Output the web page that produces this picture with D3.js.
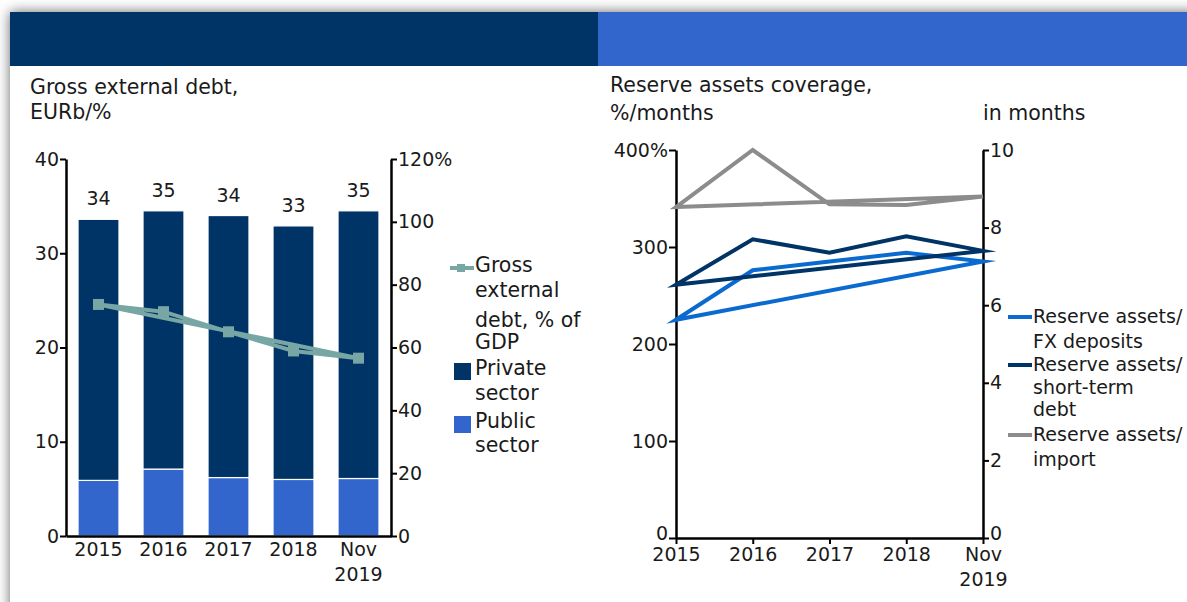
<!DOCTYPE html>
<html>
<head>
<meta charset="utf-8">
<script src="https://cdn.jsdelivr.net/npm/d3@7"></script>
<style>
body{margin:0;background:#fff;overflow:hidden;}
#panel{position:absolute;left:10px;top:12px;width:1200px;height:620px;background:#fff;box-shadow:0 0 12px rgba(0,0,0,.6);}
#chart{position:absolute;left:0;top:0;}
text{font-family:"DejaVu Sans",Verdana,sans-serif;fill:#1a1a1a;}
</style>
</head>
<body>
<div id="panel"></div>
<svg id="chart" width="1187" height="602"></svg>
<script>
// left chart data
const years=["2015","2016","2017","2018","Nov 2019"];
const publicSector=[5.9,7.1,6.2,6.0,6.1];
const privateSector=[27.7,27.4,27.8,26.9,28.4];
const debtPctGdp=[73.7,71.4,65.0,58.9,56.6];
const leftTicks=[0,10,20,30,40];
const leftRightTicks=[0,20,40,60,80,100,120];

// right chart data
const fxDeposits=[225,276,285,294,285];
const shortTermDebt=[261,308,294,311,296];
const importMonths=[8.53,10,8.6,8.58,8.8];
const rightTicks=[0,100,200,300,400];
const monthTicks=[0,2,4,6,8,10];

const navy="#003366",blue="#3366CC",teal="#77A6A4";
const fxBlue="#0A6AD0",grey="#8C8C8C";
const FS=19,FT=20.5;

const svg=d3.select("#chart");

// header bands
svg.append("rect").attr("x",10).attr("y",12).attr("width",588).attr("height",54).attr("fill",navy);
svg.append("rect").attr("x",598).attr("y",12).attr("width",600).attr("height",54).attr("fill",blue);

function multiText(g,x,y,lines,lh,fs){
  const t=g.append("text").attr("x",x).attr("y",y).attr("font-size",fs||FS);
  lines.forEach((l,i)=>t.append("tspan").attr("x",x).attr("dy",i?lh:0).text(l));
  return t;
}

function styleAxis(a){
  a.select(".domain").attr("stroke","#000").attr("stroke-width",2.5);
  a.selectAll(".tick line").attr("stroke","#000").attr("stroke-width",2);
  a.selectAll(".tick text").attr("font-size",FS).attr("fill","#1a1a1a").attr("font-family","DejaVu Sans");
}

// ---------- left chart ----------
const gl=svg.append("g");
multiText(gl,30,94,["Gross external debt,","EURb/%"],25,FT);

const xL=d3.scaleBand().domain(years).range([66,391]).paddingInner(0.37).paddingOuter(0.185);
const yL=d3.scaleLinear().domain([0,40]).range([536,159]);
const yL2=d3.scaleLinear().domain([0,120]).range([536,159]);

const stacked=years.map((y,i)=>({year:y,pub:publicSector[i],priv:privateSector[i],tot:publicSector[i]+privateSector[i]}));

gl.selectAll(".pub").data(stacked).enter().append("rect")
  .attr("x",d=>xL(d.year)).attr("width",xL.bandwidth())
  .attr("y",d=>yL(d.pub)).attr("height",d=>yL(0)-yL(d.pub))
  .attr("fill",blue).attr("stroke","#fff").attr("stroke-width",1.2);
gl.selectAll(".priv").data(stacked).enter().append("rect")
  .attr("x",d=>xL(d.year)).attr("width",xL.bandwidth())
  .attr("y",d=>yL(d.tot)).attr("height",d=>yL(d.pub)-yL(d.tot))
  .attr("fill",navy).attr("stroke","#fff").attr("stroke-width",1.2);
gl.selectAll(".lbl").data(stacked).enter().append("text")
  .attr("x",d=>xL(d.year)+xL.bandwidth()/2).attr("y",d=>yL(d.tot)-14)
  .attr("text-anchor","middle").attr("font-size",FS)
  .text(d=>Math.round(d.tot));

const axL=gl.append("g").attr("transform","translate(66,0)")
  .call(d3.axisLeft(yL).tickValues(leftTicks).tickSize(6).tickPadding(1).tickSizeOuter(0));
styleAxis(axL);
const axL2=gl.append("g").attr("transform","translate(391,0)")
  .call(d3.axisRight(yL2).tickValues(leftRightTicks).tickSize(6).tickPadding(1).tickSizeOuter(0)
  .tickFormat(d=>d===120?"120%":d));
styleAxis(axL2);
const axLB=gl.append("g").attr("transform","translate(0,536)")
  .call(d3.axisBottom(xL).tickSize(0).tickSizeOuter(0).tickPadding(7));
styleAxis(axLB);
axLB.selectAll(".tick text").each(function(d){
  const t=d3.select(this);t.text(null);
  d.split(" ").forEach((w,i)=>t.append("tspan").attr("x",0).attr("dy",i?"1.3em":"0.71em").text(w));
});

const lineL=d3.line().x((d,i)=>xL(years[i])+xL.bandwidth()/2).y(d=>yL2(d)).curve(d3.curveLinearClosed);
gl.append("path").attr("d",lineL(debtPctGdp)).attr("fill","none")
  .attr("stroke",teal).attr("stroke-width",4).attr("stroke-linejoin","miter").attr("stroke-miterlimit",20);
gl.selectAll(".mk").data(debtPctGdp).enter().append("rect")
  .attr("x",(d,i)=>xL(years[i])+xL.bandwidth()/2-5.5).attr("y",d=>yL2(d)-5.5)
  .attr("width",11).attr("height",11).attr("fill",teal);

// left legend
gl.append("line").attr("x1",450).attr("x2",474).attr("y1",268).attr("y2",268).attr("stroke",teal).attr("stroke-width",4);
gl.append("rect").attr("x",457).attr("y",264).attr("width",8).attr("height",8).attr("fill",teal);
multiText(gl,475,272,["Gross","external"],25,FT);
multiText(gl,475,327,["debt, % of","GDP"],22,FT);
gl.append("rect").attr("x",454).attr("y",363).attr("width",17).attr("height",17).attr("fill",navy);
multiText(gl,475,375,["Private","sector"],25,FT);
gl.append("rect").attr("x",454).attr("y",416).attr("width",17).attr("height",17).attr("fill",blue);
multiText(gl,475,428,["Public","sector"],24,FT);

// ---------- right chart ----------
const gr=svg.append("g");
multiText(gr,610,92,["Reserve assets coverage,","%/months"],28,FT);
gr.append("text").attr("x",983).attr("y",120).attr("font-size",FT).text("in months");

const xR=d3.scalePoint().domain(years).range([676,983]);
const yR=d3.scaleLinear().domain([0,400]).range([538,150]);
const yR2=d3.scaleLinear().domain([0,10]).range([538,150]);

const axR=gr.append("g").attr("transform","translate(676,0)")
  .call(d3.axisLeft(yR).tickValues(rightTicks).tickSize(7).tickPadding(1).tickSizeOuter(0)
  .tickFormat(d=>d===400?"400%":d));
styleAxis(axR);
axR.selectAll(".tick text").filter(d=>d===0).attr("dy","0.1em");
const axR2=gr.append("g").attr("transform","translate(983,0)")
  .call(d3.axisRight(yR2).tickValues(monthTicks).tickSize(6).tickPadding(1).tickSizeOuter(0));
styleAxis(axR2);
axR2.selectAll(".tick text").filter(d=>d===0).attr("dy","0.1em");
const axRB=gr.append("g").attr("transform","translate(0,538)")
  .call(d3.axisBottom(xR).tickSize(6).tickSizeOuter(0).tickPadding(4));
styleAxis(axRB);
axRB.selectAll(".tick text").each(function(d){
  const t=d3.select(this);t.text(null);
  d.split(" ").forEach((w,i)=>t.append("tspan").attr("x",0).attr("dy",i?"1.3em":"0.71em").text(w));
});

const series=[
  {vals:fxDeposits,color:fxBlue,scale:yR},
  {vals:shortTermDebt,color:navy,scale:yR},
  {vals:importMonths,color:grey,scale:yR2}
];
series.forEach(s=>{
  const ln=d3.line().x((d,i)=>xR(years[i])).y(d=>s.scale(d)).curve(d3.curveLinearClosed);
  gr.append("path").attr("d",ln(s.vals)).attr("fill","none").attr("stroke",s.color)
    .attr("stroke-width",4).attr("stroke-linejoin","miter").attr("stroke-miterlimit",20);
});

// right legend
const legR=[
  {color:fxBlue,y:317,lines:["Reserve assets/","FX deposits"],lh:25},
  {color:navy,y:365,lines:["Reserve assets/","short-term","debt"],lh:22.5},
  {color:grey,y:435,lines:["Reserve assets/","import"],lh:25}
];
legR.forEach(l=>{
  gr.append("line").attr("x1",1008).attr("x2",1032).attr("y1",l.y).attr("y2",l.y).attr("stroke",l.color).attr("stroke-width",4);
  multiText(gr,1033,l.y+6,l.lines,l.lh);
});
</script>
</body>
</html>
